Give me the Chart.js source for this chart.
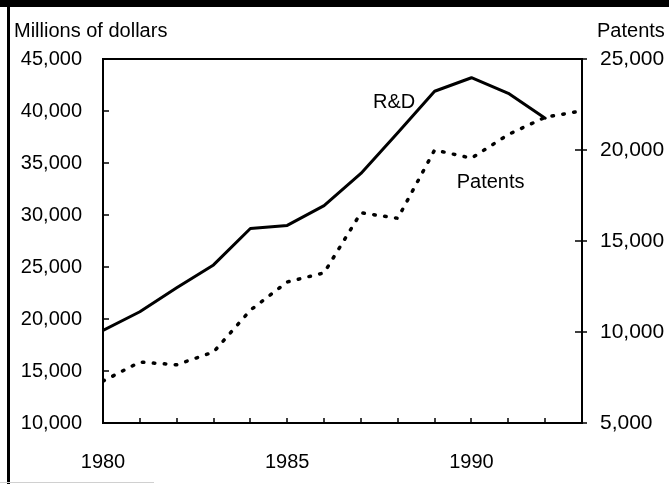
<!DOCTYPE html>
<html><head><meta charset="utf-8">
<script src="https://cdn.jsdelivr.net/npm/chart.js@4/dist/chart.umd.min.js"></script>
<style>html,body{margin:0;padding:0;background:#fff;overflow:hidden}#wrap{width:669px;height:484px;position:relative}</style>
</head><body><div id="wrap"><canvas id="c" width="669" height="484"></canvas></div>
<script>
// ---- data ----
const rdYears = [1980,1981,1982,1983,1984,1985,1986,1987,1988,1989,1990,1991,1992];
const rdValues = [18900,20700,23000,25200,28700,29000,30900,34000,37900,41900,43200,41700,39300];
const patentYears = [1980,1981,1982,1983,1984,1985,1986,1987,1988,1989,1990,1991,1992,1993];
const patentValues = [7300,8350,8200,8900,11200,12750,13250,16550,16250,20000,19550,20850,21800,22150];
const leftTicks = [10000,15000,20000,25000,30000,35000,40000,45000];
const rightTicks = [5000,10000,15000,20000,25000];
const xLabelYears = [1980,1985,1990];
const seriesLabels = ['R&D','Patents'];
const labelAnchorX = [1987.33, 1989.6];
const labelAnchorY = [40300, 17900];
const leftTitle = 'Millions of dollars';
const rightTitle = 'Patents';

const FONT = '"Liberation Sans", Arial, sans-serif';
const fmt = v => Number(v).toLocaleString('en-US');

const framePlugin = {
  id: 'frame',
  beforeDraw(chart) {
    const c = chart.ctx;
    c.save(); c.fillStyle = '#fff'; c.fillRect(0,0,chart.width,chart.height); c.restore();
  },
  afterDraw(chart) {
    const c = chart.ctx, a = chart.chartArea;
    const sx = chart.scales.x, sy = chart.scales.y, sy1 = chart.scales.y1;
    c.save();
    c.strokeStyle = '#000'; c.lineWidth = 2;
    c.strokeRect(a.left, a.top, a.right - a.left, a.bottom - a.top);
    c.lineWidth = 1.5;
    c.beginPath();
    leftTicks.forEach(v => { const y = Math.round(sy.getPixelForValue(v)); c.moveTo(a.left, y); c.lineTo(a.left + 6, y); });
    rightTicks.forEach(v => { const y = Math.round(sy1.getPixelForValue(v)); c.moveTo(a.right - 7, y); c.lineTo(a.right + 5, y); });
    sx.ticks.forEach(t => { const x = Math.round(sx.getPixelForValue(t.value)); c.moveTo(x, a.bottom); c.lineTo(x, a.bottom - 5); });
    c.stroke();
    // page decoration
    c.fillStyle = '#000';
    c.fillRect(0, 0, chart.width, 7);
    c.fillRect(7, 0, 3, chart.height);
    c.fillStyle = '#d0d0d0';
    c.fillRect(0, 482, 154, 1);
    // titles
    c.fillStyle = '#000';
    c.font = '20px ' + FONT;
    c.textBaseline = 'alphabetic';
    c.textAlign = 'left';
    c.fillText(leftTitle, 14, 37);
    c.fillText(rightTitle, 597, 37);
    // series labels
    c.fillText(seriesLabels[0], sx.getPixelForValue(labelAnchorX[0]), sy.getPixelForValue(labelAnchorY[0]));
    c.fillText(seriesLabels[1], sx.getPixelForValue(labelAnchorX[1]), sy1.getPixelForValue(labelAnchorY[1]));
    c.restore();
  }
};

new Chart(document.getElementById('c'), {
  type: 'line',
  data: {
    datasets: [
      { label: seriesLabels[0], data: rdYears.map((x,i)=>({x, y: rdValues[i]})), yAxisID: 'y',
        borderColor: '#000', borderWidth: 3, pointRadius: 0, tension: 0, fill: false,
        borderJoinStyle: 'round', borderCapStyle: 'round' },
      { label: seriesLabels[1], data: patentYears.map((x,i)=>({x, y: patentValues[i]})), yAxisID: 'y1',
        borderColor: '#000', borderWidth: 3.5, pointRadius: 0, tension: 0, fill: false,
        borderDash: [1.5, 9.5], borderCapStyle: 'round' }
    ]
  },
  options: {
    responsive: false, animation: false, devicePixelRatio: 1,
    layout: { padding: { top: 59, left: 0, right: 0, bottom: 0 } },
    plugins: { legend: { display: false }, tooltip: { enabled: false } },
    scales: {
      x: { type: 'linear', position: 'bottom', min: 1980, max: 1993,
        grid: { display: false, drawTicks: false }, border: { display: false },
        ticks: { stepSize: 1, autoSkip: false, maxRotation: 0, padding: 27, color: '#000',
          font: { family: FONT, size: 20 },
          callback: v => xLabelYears.includes(v) ? String(v) : '' },
        afterFit: s => { s.height = 61; } },
      y: { type: 'linear', position: 'left', min: 10000, max: 45000,
        grid: { display: false, drawTicks: false }, border: { display: false },
        afterBuildTicks: s => { s.ticks = leftTicks.map(v => ({ value: v })); },
        ticks: { padding: 21, color: '#000', font: { family: FONT, size: 20 }, callback: v => fmt(v) },
        afterFit: s => { s.width = 103; } },
      y1: { type: 'linear', position: 'right', min: 5000, max: 25000,
        grid: { display: false, drawTicks: false }, border: { display: false },
        afterBuildTicks: s => { s.ticks = rightTicks.map(v => ({ value: v })); },
        ticks: { padding: 18, color: '#000', font: { family: FONT, size: 21 }, callback: v => fmt(v) },
        afterFit: s => { s.width = 87; } }
    }
  },
  plugins: [framePlugin]
});
</script>
</body></html>
